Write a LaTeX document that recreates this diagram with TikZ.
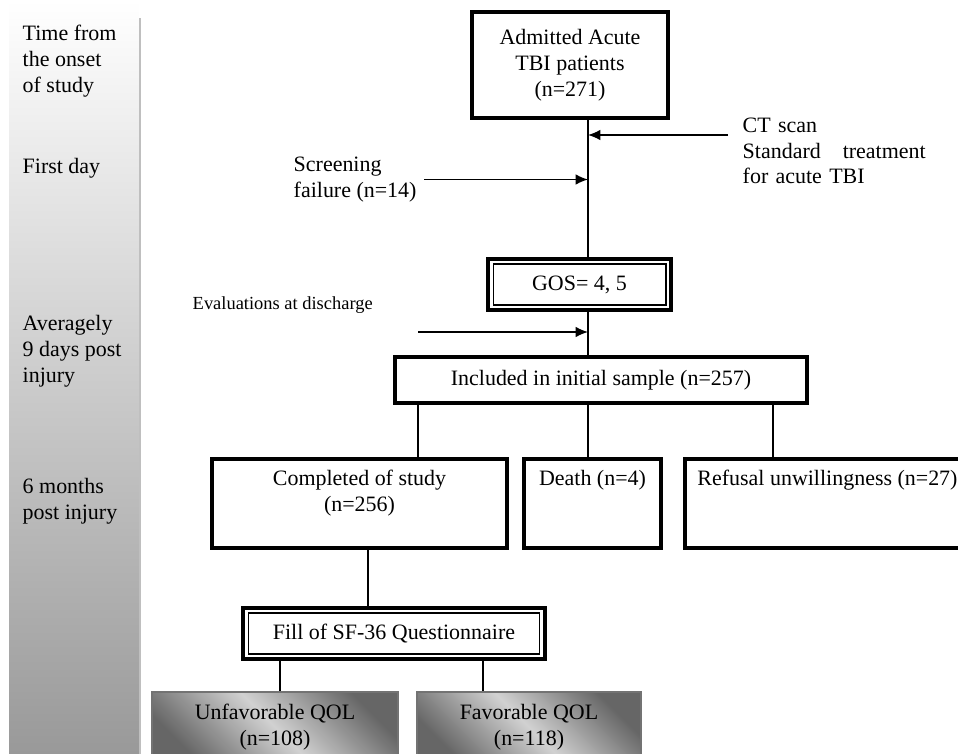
\documentclass[tikz,border=0pt]{standalone}
\usepackage{fontspec}
\setmainfont{Liberation Serif}
\usetikzlibrary{arrows.meta,calc}
\tikzset{
	box/.style = 
	{
		draw, line width=2.2pt, align=center, inner sep=2pt
	},
	double box/.style = 
	{
		box, line width=2.6pt,
		path picture = 
		{
			\draw [line width=0.7pt] ([shift={(2.9pt,-2.9pt)}]path picture bounding box.north west)
				rectangle ([shift={(-2.9pt,2.9pt)}]path picture bounding box.south east);
		}
	},
	shaded box/.style = 
	{
		draw=black!55, line width=0.8pt, align=center,
		top color=black!60, bottom color=black!60, middle color=black!18, shading angle=-45
	},
	time label/.style = {anchor=west, align=left, inner sep=0pt},
	note/.style = {anchor=west, align=left, inner sep=4pt}
}

\begin{document}
\begin{tikzpicture}[x=0.02cm, y=-0.02cm, line width=0.8pt, >={Latex[length=7pt,width=6pt]},
	font=\fontsize{12.5}{14.7}\selectfont]
    \clip (0,0) rectangle (958,754);
    % Time bar
    \shade [top color=white, middle color=black!15, bottom color=black!40] (9,0) rectangle (139,754);
    \draw [black!25, line width=1.2pt] (140,18) -- (140,754);
    \node[time label] (onset) at (22,61) {Time from\\the onset\\of study};
    \node[time label] (firstday) at (22,168) {First day};
    \node[time label] (discharge) at (22,351) {Averagely\\9 days post\\injury};
    \node[time label] (sixmonths) at (22,501) {6 months\\post injury};

    % Nodes
    \node (admitted) [box, minimum width=3.92cm, minimum height=2.12cm] at (570,65) {Admitted Acute\\TBI patients\\(n=271)};
    \node (gos) [double box, minimum width=3.66cm, minimum height=1.02cm] at (579.5,284.5) {GOS= 4, 5};
    \node (included) [box, minimum width=8.24cm, minimum height=0.92cm] at (601,380) {Included in initial sample (n=257)};
    \node (completed) [box, minimum width=5.9cm, minimum height=1.78cm] at (359.5,503.5) {Completed of study\\(n=256)\\\mbox{}};
    \node (death) [box, minimum width=2.74cm, minimum height=1.78cm] at (592.5,503.5) {Death (n=4)\\\mbox{}\\\mbox{}};
    \node (refusal) [box, minimum width=5.7cm, minimum height=1.78cm] at (827.5,503.5) {Refusal unwillingness (n=27)\\\mbox{}\\\mbox{}};
    \node (sf36) [double box, minimum width=6.04cm, minimum height=1.02cm] at (394,633.5) {Fill of SF-36 Questionnaire};
    \node (unfavorable) [shaded box, minimum width=4.92cm, minimum height=1.4cm] at (275,727) {Unfavorable QOL\\(n=108)};
    \node (favorable) [shaded box, minimum width=4.48cm, minimum height=1.4cm] at (529,727) {Favorable QOL\\(n=118)};

    \node (screening) [note] at (286,179.5) {Screening\\failure (n=14)};
    \node (ctscan) [note, text width=3.66cm] at (735,151) {CT scan\\Standard\hfill treatment\\for acute TBI};
    \node (evaluation) [note, font=\fontsize{10.5}{12}\selectfont] at (185,305) {Evaluations at discharge};
    \coordinate (trunk) at (588,0);
    \coordinate (ct in) at (728,135);
    \coordinate (eval in) at (418,332);

    % Lines
    \draw (admitted.south -| trunk) -- (gos.north -| trunk);
    \draw (gos.south -| trunk) -- (included.north -| trunk);
    \foreach \x/\n in {418/completed, 588/death, 773/refusal}
        \draw (included.south -| \x,0) -- (\n.north -| \x,0);
    \draw (completed.south -| 368,0) -- (sf36.north -| 368,0);
    \foreach \x/\n in {280/unfavorable, 483/favorable}
        \draw (sf36.south -| \x,0) -- (\n.north -| \x,0);

    % Arrows
    \draw [->] (ct in) -- (ct in -| trunk);
    \draw [->] (screening.east) -- (screening.east -| trunk);
    \draw [->] (eval in) -- (eval in -| trunk);

\end{tikzpicture}
\end{document}
